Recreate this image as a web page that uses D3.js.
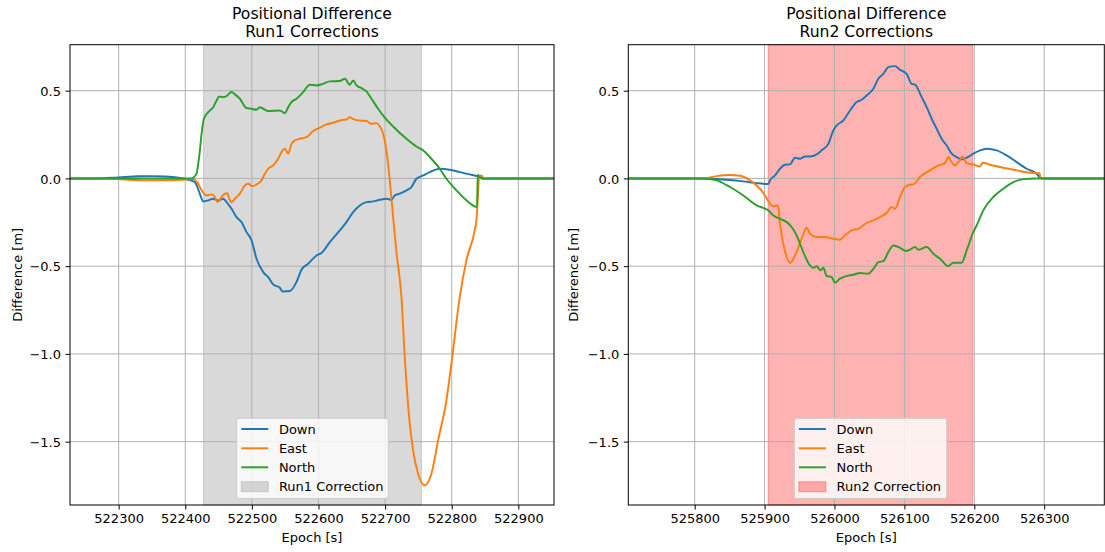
<!DOCTYPE html>
<html>
<head>
<meta charset="utf-8">
<script src="https://cdn.jsdelivr.net/npm/d3@7"></script>
<style>
  html, body { margin: 0; padding: 0; background: #fff; }
  svg { display: block; font-family: "DejaVu Sans", sans-serif; }
</style>
</head>
<body>
<svg id="chart" width="1105" height="552"></svg>
<script>
// ---- Series names, colours and tick values ----
const seriesNames = ["Down", "East", "North"];
const seriesColors = ["#1f77b4", "#ff7f0e", "#2ca02c"];
const yTicks = [-1.5, -1.0, -0.5, 0.0, 0.5];
const yLimits = [-1.861, 0.762];

// ---- Run 1: epoch / difference pairs ----
const run1Limits = [522227, 522953.5];
const run1Ticks = [522300, 522400, 522500, 522600, 522700, 522800, 522900];
const run1Span = [522427.5, 522754.5];
const run1Down = [
  [522227,0],[522270,0],[522300,0.006],[522330,0.012],[522350,0.013],[522370,0.011],[522390,0.004],
  [522405,-0.008],[522414.5,-0.021],[522421,-0.078],[522427,-0.131],[522434.5,-0.125],[522442,-0.116],
  [522449.5,-0.125],[522457,-0.116],[522462,-0.135],[522469.5,-0.173],[522477,-0.221],[522484.5,-0.249],
  [522492,-0.306],[522499.5,-0.353],[522507,-0.458],[522517,-0.534],[522524.5,-0.562],[522532,-0.604],
  [522542,-0.623],[522546,-0.644],[522557,-0.642],[522567,-0.59],[522574.5,-0.52],[522584.5,-0.486],
  [522597,-0.439],[522604.5,-0.425],[522617,-0.363],[522632,-0.296],[522642,-0.249],[522652,-0.192],
  [522662,-0.154],[522672,-0.135],[522682,-0.131],[522692,-0.122],[522702,-0.116],[522709.5,-0.122],
  [522714.5,-0.097],[522722,-0.087],[522732,-0.068],[522739.5,-0.049],[522747,-0.002],[522757,0.017],
  [522767,0.036],[522782,0.055],[522797,0.049],[522812,0.036],[522827,0.023],[522839.5,0.011],
  [522843,0.005],[522846,0],[522953.5,0]
];
const run1East = [
  [522227,0],[522270,0],[522300,-0.004],[522340,-0.011],[522380,-0.01],[522405,-0.005],[522412,-0.004],
  [522419.5,-0.03],[522424.5,-0.068],[522432,-0.097],[522439.5,-0.091],[522444.5,-0.106],[522448.5,-0.135],
  [522454.5,-0.106],[522459.5,-0.087],[522463,-0.084],[522466,-0.116],[522469.5,-0.135],[522474.5,-0.116],
  [522482,-0.087],[522489.5,-0.04],[522494.5,-0.03],[522501,-0.044],[522507,-0.034],[522514.5,-0.011],
  [522519.5,0.027],[522524.5,0.055],[522532,0.074],[522539.5,0.112],[522544.5,0.15],[522549.5,0.169],
  [522554.5,0.141],[522559.5,0.197],[522564.5,0.216],[522572,0.226],[522582,0.235],[522592,0.27],
  [522602,0.289],[522612,0.308],[522622,0.317],[522632,0.33],[522642,0.336],[522647,0.349],[522652,0.338],
  [522662,0.33],[522672,0.327],[522679.5,0.311],[522687,0.315],[522692,0.296],[522697,0.255],[522702,0.16],
  [522707,-0.011],[522712,-0.22],[522717,-0.42],[522724.5,-0.676],[522729.5,-1.018],[522737,-1.398],
  [522742,-1.55],[522749.5,-1.683],[522759.5,-1.749],[522769.5,-1.683],[522779.5,-1.493],[522792,-1.265],
  [522799.5,-1.056],[522812,-0.676],[522822,-0.467],[522834.5,-0.296],[522837,-0.239],[522839.5,-0.087],
  [522841,0.008],[522844.5,0.017],[522848,0],[522953.5,0]
];
const run1North = [
  [522227,0],[522410,0],[522412,0.004],[522417,0.027],[522419.5,0.084],[522422,0.16],[522424.5,0.255],
  [522428,0.34],[522434.5,0.378],[522442,0.406],[522447,0.444],[522451,0.467],[522457,0.463],[522462,0.469],
  [522469.5,0.492],[522474.5,0.479],[522482,0.454],[522492,0.401],[522499.5,0.397],[522507,0.391],
  [522512,0.406],[522517,0.397],[522524.5,0.384],[522542,0.387],[522549.5,0.372],[522554.5,0.406],
  [522559.5,0.435],[522567,0.454],[522577,0.492],[522587,0.534],[522597,0.53],[522607,0.539],[522617,0.553],
  [522632,0.555],[522639.5,0.568],[522647,0.534],[522652,0.558],[522657,0.53],[522664.5,0.515],
  [522672,0.496],[522679.5,0.454],[522689.5,0.397],[522699.5,0.346],[522712,0.296],[522732,0.226],
  [522747,0.182],[522757,0.16],[522767,0.122],[522782,0.055],[522792,-0.002],[522807,-0.068],
  [522822,-0.125],[522838,-0.163],[522839,0.021],[522843,0.004],[522846,0],[522953.5,0]
];

// ---- Run 2: epoch / difference pairs ----
const run2Limits = [525705, 526386];
const run2Ticks = [525800, 525900, 526000, 526100, 526200, 526300];
const run2Span = [525905, 526197.7];
const run2Down = [
  [525705,0],[525812,0],[525845.7,-0.008],[525869.6,-0.017],[525888.6,-0.027],[525905.3,-0.032],
  [525907.7,-0.011],[525914.9,0.017],[525922,0.055],[525929.2,0.078],[525936.3,0.08],[525943.5,0.118],
  [525950.6,0.112],[525957.8,0.125],[525965,0.125],[525974.5,0.137],[525981.6,0.16],[525991.2,0.197],
  [525998.3,0.273],[526003.1,0.302],[526012.6,0.33],[526022.2,0.387],[526031.7,0.435],[526038.9,0.448],
  [526046,0.473],[526055.6,0.511],[526062.7,0.568],[526069.9,0.596],[526077,0.634],[526086.5,0.64],
  [526093.7,0.619],[526103.2,0.596],[526110.4,0.539],[526115.2,0.535],[526124.7,0.463],[526131.9,0.406],
  [526139,0.34],[526146.2,0.283],[526153.3,0.226],[526160.5,0.188],[526167.6,0.141],[526174.8,0.122],
  [526181.9,0.108],[526189.1,0.118],[526198.6,0.141],[526208.2,0.16],[526217.7,0.169],[526232,0.16],
  [526246.3,0.131],[526260.6,0.093],[526274.9,0.055],[526289.2,0.027],[526294,0.004],[526298.8,0],
  [526386,0]
];
const run2East = [
  [525705,0],[525812,0],[525831.4,0.013],[525850.5,0.019],[525864.8,0.015],[525879.1,-0.011],
  [525891,-0.049],[525900.6,-0.097],[525907.7,-0.144],[525912.5,-0.16],[525917.3,-0.154],[525919.6,-0.163],
  [525922,-0.258],[525925.8,-0.353],[525931.6,-0.448],[525936.3,-0.482],[525943.5,-0.439],[525953,-0.344],
  [525960.2,-0.281],[525965,-0.315],[525974.5,-0.334],[525986.4,-0.334],[525998.3,-0.344],[526007.9,-0.349],
  [526015,-0.325],[526024.6,-0.296],[526034.1,-0.287],[526046,-0.254],[526055.6,-0.239],[526065.1,-0.22],
  [526074.6,-0.197],[526081.8,-0.163],[526086.5,-0.173],[526093.7,-0.106],[526100.9,-0.049],[526108,-0.036],
  [526112.8,-0.034],[526122.3,0.008],[526136.6,0.046],[526148.5,0.074],[526158.1,0.087],[526162.9,0.122],
  [526167.6,0.093],[526172.4,0.074],[526177.2,0.093],[526183.4,0.125],[526189.1,0.087],[526198.6,0.08],
  [526208.2,0.068],[526212,0.089],[526222.5,0.078],[526241.5,0.061],[526260.6,0.046],[526279.7,0.032],
  [526293,0.03],[526295,0.004],[526297.8,0],[526386,0]
];
const run2North = [
  [525705,0],[525812,0],[525831.4,-0.011],[525850.5,-0.049],[525869.6,-0.097],[525888.6,-0.154],
  [525905.3,-0.182],[525912.5,-0.211],[525922,-0.23],[525931.6,-0.249],[525938.7,-0.277],[525945.9,-0.325],
  [525955.4,-0.42],[525965,-0.496],[525969.7,-0.509],[525974.5,-0.501],[525980.2,-0.524],[525984,-0.509],
  [525988.8,-0.556],[525995.9,-0.562],[526000.7,-0.594],[526007.9,-0.571],[526017.4,-0.556],[526026.9,-0.549],
  [526036.5,-0.539],[526048.4,-0.543],[526055.6,-0.515],[526062.7,-0.477],[526069.9,-0.471],[526077,-0.42],
  [526084.2,-0.382],[526091.3,-0.391],[526103.2,-0.414],[526108,-0.406],[526115.2,-0.391],[526119.9,-0.406],
  [526131.9,-0.391],[526141.4,-0.429],[526151,-0.458],[526162.9,-0.5],[526170,-0.48],[526181.9,-0.48],
  [526189.1,-0.41],[526198.6,-0.306],[526203.4,-0.268],[526212.9,-0.182],[526227.2,-0.106],
  [526241.5,-0.059],[526255.9,-0.021],[526270.2,-0.004],[526289.2,0],[526386,0]
];

// ---- Panel layout ----
const panels = [
  {
    title: ["Positional Difference", "Run1 Corrections"],
    xLimits: run1Limits, xTicks: run1Ticks, span: run1Span,
    spanColor: "rgba(128,128,128,0.3)", spanLabel: "Run1 Correction",
    series: [run1Down, run1East, run1North],
    left: 70, right: 554, legendX: 236.7, legendW: 151.6, ylabelX: 21.5
  },
  {
    title: ["Positional Difference", "Run2 Corrections"],
    xLimits: run2Limits, xTicks: run2Ticks, span: run2Span,
    spanColor: "rgba(255,0,0,0.3)", spanLabel: "Run2 Correction",
    series: [run2Down, run2East, run2North],
    left: 628.3, right: 1104.3, legendX: 794.3, legendW: 152.4, ylabelX: 578
  }
];
const plotTop = 44.7, plotBottom = 505;
const tickFont = 13;
const titleFont = 15.6;
const lineWidth = 1.95;
const tickLen = 4.5;

const svg = d3.select("#chart");
const minus = s => s.replace("-", "\u2212");

panels.forEach((p, i) => {
  const x = d3.scaleLinear().domain(p.xLimits).range([p.left, p.right]);
  const y = d3.scaleLinear().domain(yLimits).range([plotBottom, plotTop]);
  const g = svg.append("g");

  const clipId = "clip" + i;
  svg.append("defs").append("clipPath").attr("id", clipId)
    .append("rect").attr("x", p.left).attr("y", plotTop)
    .attr("width", p.right - p.left).attr("height", plotBottom - plotTop);

  // highlighted correction interval
  g.append("rect")
    .attr("x", x(p.span[0])).attr("y", plotTop)
    .attr("width", x(p.span[1]) - x(p.span[0])).attr("height", plotBottom - plotTop)
    .attr("fill", p.spanColor).attr("stroke", p.spanColor).attr("stroke-width", 1);

  // grid
  const grid = g.append("g").attr("stroke", "#b0b0b0").attr("stroke-width", 1);
  p.xTicks.forEach(t => grid.append("line")
    .attr("x1", x(t)).attr("x2", x(t)).attr("y1", plotTop).attr("y2", plotBottom));
  yTicks.forEach(t => grid.append("line")
    .attr("x1", p.left).attr("x2", p.right).attr("y1", y(t)).attr("y2", y(t)));

  // data lines
  const line = d3.line().x(d => x(d[0])).y(d => y(d[1])).curve(d3.curveMonotoneX);
  const lines = g.append("g").attr("clip-path", `url(#${clipId})`);
  p.series.forEach((s, k) => {
    lines.append("path").datum(s).attr("d", line)
      .attr("fill", "none").attr("stroke", seriesColors[k])
      .attr("stroke-width", lineWidth).attr("stroke-linejoin", "round");
  });

  // axes
  const xAxis = d3.axisBottom(x).tickValues(p.xTicks).tickFormat(d3.format("d"))
    .tickSizeInner(tickLen).tickSizeOuter(0).tickPadding(tickLen);
  const yAxis = d3.axisLeft(y).tickValues(yTicks).tickFormat(d => minus(d3.format(".1f")(d)))
    .tickSizeInner(tickLen).tickSizeOuter(0).tickPadding(tickLen);
  const gx = g.append("g").attr("transform", `translate(0,${plotBottom})`).call(xAxis);
  const gy = g.append("g").attr("transform", `translate(${p.left},0)`).call(yAxis);
  [gx, gy].forEach(a => {
    a.select(".domain").remove();
    a.selectAll(".tick line").attr("stroke", "#000").attr("stroke-width", 1);
    a.selectAll(".tick text").attr("font-size", tickFont).attr("fill", "#000")
      .attr("font-family", "DejaVu Sans");
  });
  gx.selectAll(".tick text").attr("dy", null).attr("y", 18.3);
  gy.selectAll(".tick text").attr("dy", "0.36em");

  // frame
  g.append("rect").attr("x", p.left).attr("y", plotTop)
    .attr("width", p.right - p.left).attr("height", plotBottom - plotTop)
    .attr("fill", "none").attr("stroke", "#000").attr("stroke-width", 1);

  // titles and labels
  const cx = (p.left + p.right) / 2;
  g.append("text").attr("x", cx).attr("y", 19.3).attr("text-anchor", "middle")
    .attr("font-size", titleFont).text(p.title[0]);
  g.append("text").attr("x", cx).attr("y", 36.6).attr("text-anchor", "middle")
    .attr("font-size", titleFont).text(p.title[1]);
  g.append("text").attr("x", cx).attr("y", 541.7).attr("text-anchor", "middle")
    .attr("font-size", tickFont).text("Epoch [s]");
  g.append("text").attr("transform", `translate(${p.ylabelX},${(plotTop + plotBottom) / 2}) rotate(-90)`)
    .attr("text-anchor", "middle").attr("font-size", tickFont).text("Difference [m]");

  // legend
  const lg = g.append("g");
  const ly = 418.3, lh = 80.3;
  lg.append("rect").attr("x", p.legendX).attr("y", ly).attr("width", p.legendW).attr("height", lh)
    .attr("rx", 2.5).attr("fill", "rgba(255,255,255,0.8)").attr("stroke", "#cccccc").attr("stroke-width", 1);
  const rowY = [429, 448.3, 467.3, 486.7];
  const hx0 = p.legendX + 4.6, hx1 = p.legendX + 31.6, tx = p.legendX + 42.2;
  seriesNames.forEach((name, k) => {
    lg.append("line").attr("x1", hx0).attr("x2", hx1).attr("y1", rowY[k]).attr("y2", rowY[k])
      .attr("stroke", seriesColors[k]).attr("stroke-width", lineWidth);
    lg.append("text").attr("x", tx).attr("y", rowY[k] + 4.7).attr("font-size", tickFont).text(name);
  });
  lg.append("rect").attr("x", hx0).attr("y", rowY[3] - 5).attr("width", hx1 - hx0).attr("height", 10)
    .attr("fill", p.spanColor).attr("stroke", p.spanColor).attr("stroke-width", 1);
  lg.append("text").attr("x", tx).attr("y", rowY[3] + 4.7).attr("font-size", tickFont).text(p.spanLabel);
});
</script>
</body>
</html>
